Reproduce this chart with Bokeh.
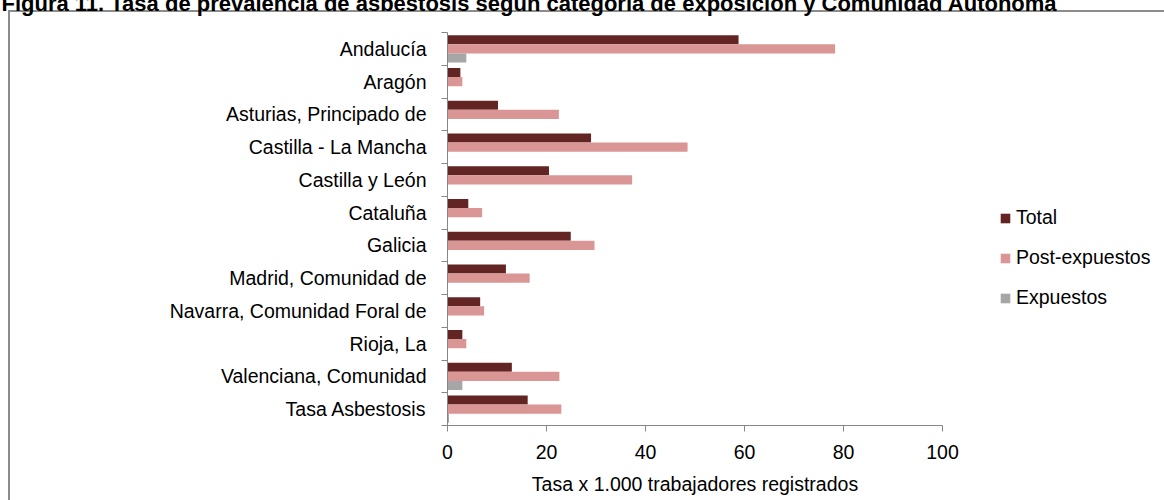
from bokeh.plotting import figure
from bokeh.models import FixedTicker, Legend, LegendItem, Range1d
from bokeh.embed import file_html
from bokeh.resources import INLINE

title = "Figura 11. Tasa de prevalencia de asbestosis según categoría de exposición y Comunidad Autónoma"
regions = ["Andalucía", "Aragón", "Asturias, Principado de", "Castilla - La Mancha",
           "Castilla y León", "Cataluña", "Galicia", "Madrid, Comunidad de",
           "Navarra, Comunidad Foral de", "Rioja, La", "Valenciana, Comunidad",
           "Tasa Asbestosis"]
total = [58.8, 2.6, 10.2, 29.0, 20.5, 4.2, 24.9, 11.8, 6.6, 3.0, 13.0, 16.2]
post_expuestos = [78.3, 3.0, 22.5, 48.5, 37.3, 7.0, 29.7, 16.6, 7.4, 3.8, 22.6, 23.0]
expuestos = [3.8, 0, 0, 0, 0, 0, 0, 0, 0, 0, 3.0, 0.3]
x_ticks = [0, 20, 40, 60, 80, 100]
x_label = "Tasa x 1.000 trabajadores registrados"
series_names = ["Total", "Post-expuestos", "Expuestos"]
colors = ["#632523", "#D99694", "#A6A6A6"]

FONT = "Liberation Sans"
FS = "19.5px"
SHIFT = 24  # canvas starts above the page top, as the clipped title in the reference

n = len(regions)
pos = [n - i for i in range(n)]
bar_h = 0.275

p = figure(frame_width=495, frame_height=393, x_range=Range1d(0, 100), y_range=Range1d(0.5, n + 0.5),
           output_backend="svg", toolbar_location=None,
           min_border_left=447, min_border_right=222, min_border_top=0, min_border_bottom=76)
p.styles = {
    "margin-top": f"-{SHIFT}px",
    "background-color": "white",
    "background-image": "linear-gradient(#8c8c8c, #8c8c8c), linear-gradient(#8c8c8c, #8c8c8c)",
    "background-size": "1160px 2px, 2px 600px",
    "background-position": f"8px {10 + SHIFT}px, 8px {10 + SHIFT}px",
    "background-repeat": "no-repeat",
}
p.background_fill_color = "white"
p.border_fill_color = None
p.outline_line_color = None
p.xgrid.visible = False
p.ygrid.visible = False

p.title.text = title
p.title.align = "left"
p.title.vertical_align = "top"
p.title.offset = -446
p.title.standoff = 29
p.title.text_font = FONT
p.title.text_font_size = "22px"
p.title.text_font_style = "bold"
p.title.text_color = "#000000"

renderers = []
for k, (vals, offs) in enumerate([(total, bar_h), (post_expuestos, 0.0), (expuestos, -bar_h)]):
    r = p.hbar(y=[v + offs for v in pos], right=vals, left=0, height=bar_h,
               fill_color=colors[k], line_color=None)
    renderers.append(r)

# x axis
xa = p.xaxis[0]
xa.ticker = FixedTicker(ticks=x_ticks)
xa.axis_label = x_label
xa.axis_label_text_font = FONT
xa.axis_label_text_font_size = FS
xa.axis_label_text_font_style = "normal"
xa.axis_label_text_color = "#000000"
xa.axis_label_standoff = 11
xa.major_label_text_font = FONT
xa.major_label_text_font_size = FS
xa.major_label_text_color = "#000000"
xa.major_label_standoff = 13
xa.axis_line_color = "#868686"
xa.major_tick_line_color = "#868686"
xa.major_tick_out = 6
xa.major_tick_in = 0
xa.minor_tick_line_color = None

# y axis
ya = p.yaxis[0]
ya.ticker = FixedTicker(ticks=pos, minor_ticks=[i + 0.5 for i in range(n + 1)])
ya.major_label_overrides = {pos[i]: regions[i] for i in range(n)}
ya.major_label_text_font = FONT
ya.major_label_text_font_size = FS
ya.major_label_text_color = "#000000"
ya.major_label_standoff = 15
ya.axis_line_color = "#868686"
ya.major_tick_line_color = None
ya.major_tick_out = 0
ya.major_tick_in = 0
ya.minor_tick_line_color = "#868686"
ya.minor_tick_out = 6
ya.minor_tick_in = 0

legend = Legend(items=[LegendItem(label=series_names[k], renderers=[renderers[k]]) for k in range(3)],
                location=(57, 116), padding=0, margin=0, spacing=17,
                glyph_width=12, glyph_height=12, label_height=22, label_standoff=5,
                label_text_font=FONT, label_text_font_size=FS, label_text_color="#000000",
                border_line_color=None, background_fill_alpha=0)
p.add_layout(legend, "right")

open("out.html", "w").write(file_html(p, INLINE))
